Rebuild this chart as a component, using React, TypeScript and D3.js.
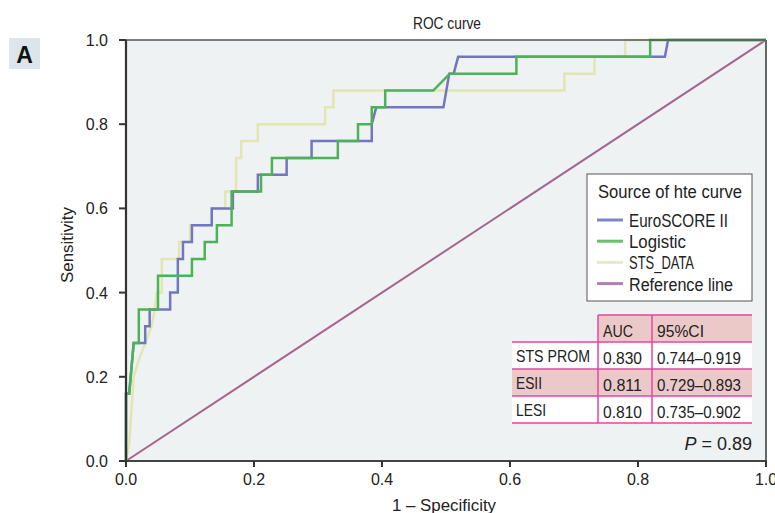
import React from "react";
import * as d3 from "d3";

// ROC curves as [1 - specificity, sensitivity] corners
const euroScore: [number, number][] = [
  [0, 0], [0, 0.16], [0.005, 0.16], [0.012, 0.28], [0.03, 0.28], [0.03, 0.32],
  [0.037, 0.32], [0.037, 0.36], [0.069, 0.36], [0.069, 0.4], [0.081, 0.4],
  [0.081, 0.48], [0.089, 0.48], [0.089, 0.52], [0.103, 0.52], [0.103, 0.56],
  [0.134, 0.56], [0.134, 0.6], [0.167, 0.6], [0.167, 0.64], [0.206, 0.64],
  [0.206, 0.68], [0.251, 0.68], [0.251, 0.72], [0.29, 0.72], [0.29, 0.76],
  [0.384, 0.76], [0.384, 0.8], [0.391, 0.84], [0.496, 0.84], [0.505, 0.92],
  [0.512, 0.92], [0.519, 0.96], [0.842, 0.96], [0.847, 1], [1, 1],
];
const logistic: [number, number][] = [
  [0, 0], [0, 0.16], [0.005, 0.16], [0.012, 0.28], [0.02, 0.28], [0.02, 0.36],
  [0.05, 0.36], [0.05, 0.44], [0.103, 0.44], [0.103, 0.48], [0.123, 0.48],
  [0.123, 0.52], [0.142, 0.52], [0.142, 0.56], [0.165, 0.56], [0.165, 0.64],
  [0.211, 0.64], [0.211, 0.68], [0.228, 0.68], [0.228, 0.72], [0.331, 0.72],
  [0.331, 0.76], [0.3625, 0.76], [0.3625, 0.8], [0.384, 0.8], [0.384, 0.84],
  [0.405, 0.84], [0.405, 0.88], [0.48, 0.88], [0.506, 0.92], [0.61, 0.92],
  [0.61, 0.96], [0.819, 0.96], [0.819, 1], [1, 1],
];
const stsData: [number, number][] = [
  [0, 0], [0.005, 0.04], [0.012, 0.2], [0.02, 0.24], [0.03, 0.28], [0.04, 0.32],
  [0.045, 0.36], [0.048, 0.4], [0.056, 0.4], [0.056, 0.48], [0.083, 0.48],
  [0.083, 0.52], [0.1, 0.52], [0.1, 0.56], [0.134, 0.56], [0.134, 0.6],
  [0.155, 0.6], [0.155, 0.64], [0.172, 0.64], [0.172, 0.72], [0.18, 0.72],
  [0.18, 0.76], [0.206, 0.76], [0.206, 0.8], [0.311, 0.8], [0.311, 0.84],
  [0.324, 0.84], [0.324, 0.88], [0.685, 0.88], [0.685, 0.92], [0.732, 0.92],
  [0.732, 0.96], [0.78, 0.96], [0.78, 1], [1, 1],
];
const referenceLine: [number, number][] = [[0, 0], [1, 1]];

const legendNames = ["EuroSCORE II", "Logistic", "STS_DATA", "Reference line"];
const legendColors = ["#8084c6", "#6cbd6c", "#e6eacd", "#b47fae"];

const tableHeader = ["AUC", "95%CI"];
const tableRows = ["STS PROM", "ESII", "LESI"];
const aucValues = ["0.830", "0.811", "0.810"];
const ciValues = ["0.744\u20130.919", "0.729\u20130.893", "0.735\u20130.902"];

const tickValues = [0, 0.2, 0.4, 0.6, 0.8, 1.0];

const font = "'Liberation Sans Narrow', 'Arial Narrow', 'Liberation Sans', Arial, sans-serif";
const tickFont = "'Liberation Sans', Arial, sans-serif";

export default function App() {
  const width = 775;
  const height = 513;
  const left = 126, right = 766, top = 40, bottom = 461;

  const x = d3.scaleLinear().domain([0, 1]).range([left, right]);
  const y = d3.scaleLinear().domain([0, 1]).range([bottom, top]);
  const line = d3.line<[number, number]>().x((d) => x(d[0])).y((d) => y(d[1]));
  const fmt = d3.format(".1f");

  const series = [
    { data: referenceLine, color: "#a4668c", w: 2 },
    { data: stsData, color: "#e2e6b0", w: 2.5 },
    { data: euroScore, color: "#7276c0", w: 2.5 },
    { data: logistic, color: "#4db257", w: 2.5 },
  ];

  // legend / table geometry
  const lg = { x: 587, y: 174, w: 165, h: 127 };
  const tbl = { x0: 512, c1: 598, c2: 652, x1: 752, top: 315, rowH: 27 };

  return (
    <svg width={width} height={height} style={{ position: "absolute", left: 0, top: 0, background: "#fff" }}>
      {/* panel letter */}
      <rect x={9} y={38} width={31} height={31} fill="#dde4ea" />
      <text x={24.5} y={63} textAnchor="middle" fontFamily={tickFont} fontWeight="bold" fontSize={23} fill="#111">A</text>

      <text x={447} y={29} textAnchor="middle" fontFamily={font} fontSize={17} fill="#222" textLength={68} lengthAdjust="spacingAndGlyphs">ROC curve</text>

      {/* plot area */}
      <rect x={left} y={top} width={right - left} height={bottom - top} fill="#eff2f3" />

      {series.map((s, i) => (
        <path key={i} d={line(s.data) || ""} fill="none" stroke={s.color} strokeWidth={s.w} strokeLinejoin="miter" />
      ))}

      {/* frame */}
      <line x1={left} x2={right} y1={top} y2={top} stroke="#555" strokeWidth={1.5} />
      <line x1={right} x2={right} y1={top} y2={bottom} stroke="#666" strokeWidth={2} />
      <line x1={left} x2={right + 1} y1={bottom} y2={bottom} stroke="#444" strokeWidth={2.2} />
      <line x1={left} x2={left} y1={top} y2={bottom + 1} stroke="#333" strokeWidth={2.2} />

      {/* x axis */}
      {tickValues.map((t) => (
        <g key={"x" + t}>
          <line x1={x(t)} x2={x(t)} y1={bottom} y2={bottom + 6} stroke="#333" strokeWidth={2} />
          <text x={x(t)} y={485} textAnchor="middle" fontFamily={tickFont} fontSize={16} fill="#222">{fmt(t)}</text>
        </g>
      ))}
      <text x={444} y={511} textAnchor="middle" fontFamily={font} fontSize={16} fill="#222" textLength={104} lengthAdjust="spacingAndGlyphs">1 – Specificity</text>

      {/* y axis */}
      {tickValues.map((t) => (
        <g key={"y" + t}>
          <line x1={left - 7} x2={left} y1={y(t)} y2={y(t)} stroke="#333" strokeWidth={2} />
          <text x={108} y={y(t) + 6} textAnchor="end" fontFamily={tickFont} fontSize={16} fill="#222">{fmt(t)}</text>
        </g>
      ))}
      <text transform="translate(73,245) rotate(-90)" textAnchor="middle" fontFamily={font} fontSize={16} fill="#222" textLength={76} lengthAdjust="spacingAndGlyphs">Sensitivity</text>

      {/* legend */}
      <rect x={lg.x} y={lg.y} width={lg.w} height={lg.h} fill="#fff" stroke="#555" strokeWidth={1} />
      <text x={598} y={198} fontFamily={font} fontSize={18} fill="#222" textLength={144} lengthAdjust="spacingAndGlyphs">Source of hte curve</text>
      {legendNames.map((name, i) => {
        const ly = 220 + i * 21.2;
        const widths = [99, 57, 65, 104];
        return (
          <g key={name}>
            <line x1={597} x2={623} y1={ly} y2={ly} stroke={legendColors[i]} strokeWidth={3} />
            <text x={629} y={ly + 7} fontFamily={font} fontSize={18} fill="#222" textLength={widths[i]} lengthAdjust="spacingAndGlyphs">{name}</text>
          </g>
        );
      })}

      {/* AUC table */}
      <rect x={tbl.c1} y={tbl.top} width={tbl.x1 - tbl.c1} height={tbl.rowH} fill="#ecc9c9" />
      {tableRows.map((r, i) => (
        <rect key={"bg" + r} x={tbl.x0} y={tbl.top + (i + 1) * tbl.rowH} width={tbl.x1 - tbl.x0} height={tbl.rowH} fill={i === 1 ? "#ecc9c9" : "#fff"} />
      ))}
      <line x1={tbl.c1} x2={tbl.x1} y1={tbl.top} y2={tbl.top} stroke="#e8449c" strokeWidth={1.5} />
      {tableRows.map((r, i) => (
        <line key={"hl" + r} x1={tbl.x0} x2={tbl.x1} y1={tbl.top + (i + 1) * tbl.rowH} y2={tbl.top + (i + 1) * tbl.rowH} stroke="#e8449c" strokeWidth={1.5} />
      ))}
      <line x1={tbl.x0} x2={tbl.x1} y1={tbl.top + 4 * tbl.rowH} y2={tbl.top + 4 * tbl.rowH} stroke="#e8449c" strokeWidth={1.5} />
      {[tbl.c1, tbl.c2].map((cx) => (
        <line key={"vl" + cx} x1={cx} x2={cx} y1={tbl.top} y2={tbl.top + 4 * tbl.rowH} stroke="#e8449c" strokeWidth={1.5} />
      ))}
      <text x={603} y={337} fontFamily={font} fontSize={17} fill="#222" textLength={30} lengthAdjust="spacingAndGlyphs">{tableHeader[0]}</text>
      <text x={657} y={337} fontFamily={font} fontSize={17} fill="#222" textLength={47} lengthAdjust="spacingAndGlyphs">{tableHeader[1]}</text>
      {tableRows.map((r, i) => {
        const by = tbl.top + (i + 1) * tbl.rowH + 21;
        const rw = [74, 26, 30];
        return (
          <g key={"t" + r}>
            <text x={516} y={by - 1} fontFamily={font} fontSize={17} fill="#222" textLength={rw[i]} lengthAdjust="spacingAndGlyphs">{r}</text>
            <text x={603} y={by + 1} fontFamily={font} fontSize={17} fill="#222" textLength={39} lengthAdjust="spacingAndGlyphs">{aucValues[i]}</text>
            <text x={657} y={by + 1} fontFamily={font} fontSize={17} fill="#222" textLength={84} lengthAdjust="spacingAndGlyphs">{ciValues[i]}</text>
          </g>
        );
      })}
      <text x={752} y={450} textAnchor="end" fontFamily={font} fontSize={18} fill="#222">
        <tspan fontStyle="italic">P</tspan> = 0.89
      </text>
    </svg>
  );
}
